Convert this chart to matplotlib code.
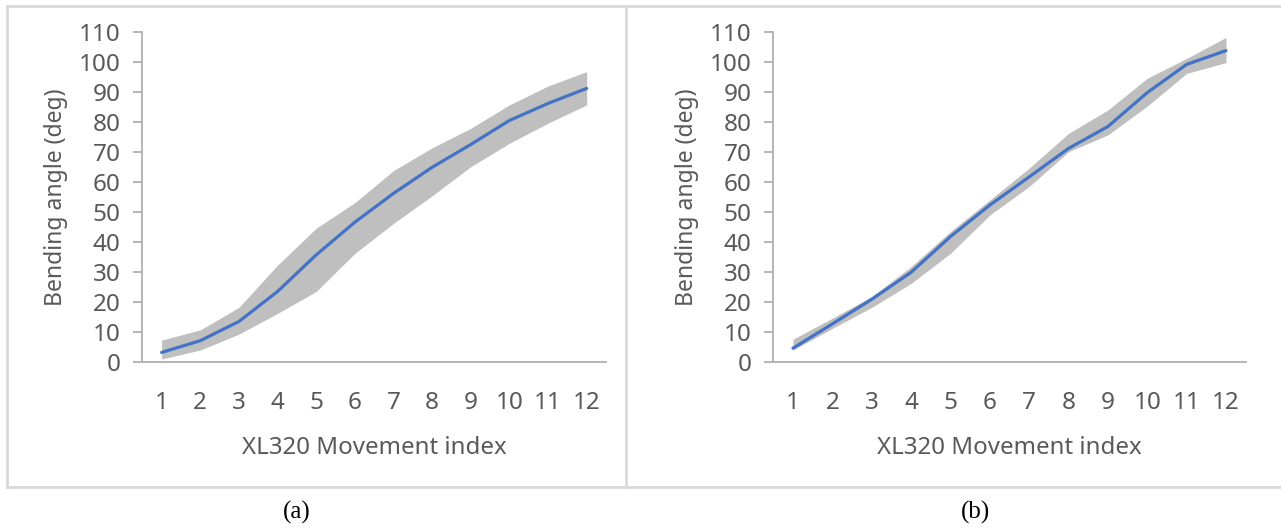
import matplotlib.pyplot as plt
import numpy as np
from matplotlib.lines import Line2D

# movement index on the x axis
idx = list(range(1, 13))

# (a) mean bending angle with upper / lower band
mean_a = [3.3, 7.2, 13.6, 23.6, 35.8, 46.7, 56.3, 65.0, 72.6, 80.6, 86.3, 91.3]
upper_a = [7.4, 10.8, 18.3, 32.4, 44.7, 53.2, 63.9, 71.5, 78.0, 85.8, 92.1, 96.9]
lower_a = [1.1, 4.1, 9.4, 16.3, 23.6, 36.3, 46.3, 55.5, 65.2, 73.0, 79.7, 85.8]

# (b)
mean_b = [4.7, 12.8, 21.0, 30.0, 41.9, 52.4, 61.8, 71.3, 78.6, 89.9, 99.3, 103.9]
upper_b = [7.7, 14.7, 21.9, 31.9, 43.6, 54.1, 64.7, 76.3, 84.1, 94.7, 101.3, 108.3]
lower_b = [4.1, 11.3, 18.3, 26.3, 36.3, 49.1, 58.6, 70.2, 75.8, 85.4, 96.3, 99.9]

panels = [("(a)", mean_a, upper_a, lower_a), ("(b)", mean_b, upper_b, lower_b)]

plt.rcParams['font.family'] = ['Noto Sans', 'DejaVu Sans']
txt = '#595959'
axc = '#b0b0b0'

W, H = 1281, 531
fig = plt.figure(figsize=(W / 100, H / 100), dpi=100)

# pixel boxes of the two plot areas (left, right, top, bottom)
boxes = [(142.3, 606.0, 32.3, 362.3), (773.3, 1245.7, 32.3, 362.3)]
label_x = [297, 975]

for (name, m, up, lo), (x0, x1, yt, yb), lx in zip(panels, boxes, label_x):
    ax = fig.add_axes([x0 / W, 1 - yb / H, (x1 - x0) / W, (yb - yt) / H])
    ax.fill_between(idx, lo, up, color='#bfbfbf', lw=0, zorder=1)
    ax.plot(idx, m, color='#4472C4', lw=2.3, solid_capstyle='round', zorder=2)
    ax.set_xlim(0.5, 12.5)
    ax.set_ylim(0, 110)
    ax.set_yticks(np.arange(0, 111, 10))
    ax.set_xticks(idx)
    for s in ['top', 'right']:
        ax.spines[s].set_visible(False)
    for s in ['left', 'bottom']:
        ax.spines[s].set_color(axc)
        ax.spines[s].set_linewidth(1.3)
    ax.tick_params(axis='y', colors=axc, length=6.5, width=1.3, pad=9,
                   labelcolor=txt, labelsize=17.5)
    ax.tick_params(axis='x', length=0, pad=21, labelcolor=txt, labelsize=17.5)
    ax.set_ylabel('Bending angle (deg)', color=txt, fontsize=16.5, labelpad=8)
    ax.set_xlabel('XL320 Movement index', color=txt, fontsize=17.3, labelpad=15)
    fig.text(lx / W, 1 - 512 / H, name, ha='center', va='center',
             family='Liberation Serif', fontsize=18, color='#000000')

# light grey frames around the two chart panels
bc = '#d9d9d9'
segs = [
    ((7, 7), (6, 487)),
    ((7, 1281), (6, 6)),
    ((7, 1281), (487, 487)),
    ((626, 626), (6, 487)),
]
for xs, ys in segs:
    fig.add_artist(Line2D([x / W for x in xs], [1 - y / H for y in ys],
                          color=bc, lw=2, transform=fig.transFigure))

fig.savefig('out.png', dpi=100, facecolor='white')
